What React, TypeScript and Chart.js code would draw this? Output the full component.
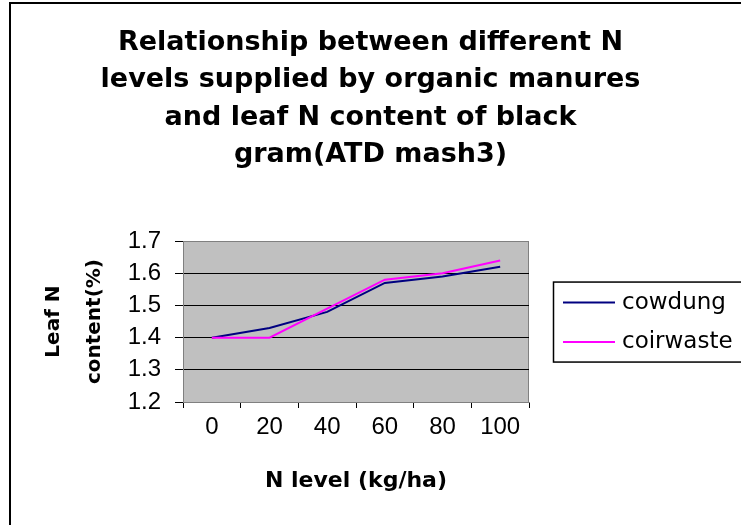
import React, { useEffect, useRef } from 'react';
import { Chart, registerables } from 'chart.js';

Chart.register(...registerables);

const categories = ['0', '20', '40', '60', '80', '100'];
const cowdung = [1.40, 1.43, 1.48, 1.57, 1.59, 1.62];
const coirwaste = [1.40, 1.40, 1.49, 1.58, 1.60, 1.64];
const seriesNames = ['cowdung', 'coirwaste'];
const seriesColors = ['#000080', '#FF00FF'];
const yTickLabels = ['1.2', '1.3', '1.4', '1.5', '1.6', '1.7'];
const titleLines = [
  'Relationship between different N',
  'levels supplied by organic manures',
  'and leaf N content of black',
  'gram(ATD mash3)',
];
const xTitle = 'N level (kg/ha)';
const yTitle = ['Leaf N', 'content(%)'];

const decor = {
  id: 'decor',
  beforeDraw(chart: any) {
    const { ctx, chartArea: a } = chart;
    ctx.save();
    ctx.fillStyle = '#ffffff';
    ctx.fillRect(0, 0, chart.width, chart.height);
    ctx.fillStyle = '#C0C0C0';
    ctx.fillRect(a.left, a.top, a.right - a.left, a.bottom - a.top);
    ctx.strokeStyle = '#808080';
    ctx.lineWidth = 1;
    ctx.beginPath();
    ctx.moveTo(Math.round(a.right) - 0.5, a.top);
    ctx.lineTo(Math.round(a.right) - 0.5, a.bottom);
    ctx.stroke();
    ctx.restore();
  },
  afterDraw(chart: any) {
    const { ctx, chartArea: a } = chart;
    ctx.save();
    // outer chart border
    ctx.strokeStyle = '#000';
    ctx.lineWidth = 2;
    ctx.strokeRect(10, 3, 800, 600);
    // legend
    const bx = a.right + 24;
    const cy = (a.top + a.bottom) / 2;
    const by = cy - 40;
    ctx.lineWidth = 1.5;
    ctx.strokeStyle = '#000';
    ctx.strokeRect(bx + 0.5, by + 0.5, 300, 80);
    ctx.font = '23px "DejaVu Sans"';
    ctx.textBaseline = 'middle';
    ctx.textAlign = 'left';
    chart.data.datasets.forEach((ds: any, i: number) => {
      const y = by + 21 + i * 39.5;
      ctx.strokeStyle = ds.borderColor;
      ctx.lineWidth = 2;
      ctx.beginPath();
      ctx.moveTo(bx + 10, y);
      ctx.lineTo(bx + 62, y);
      ctx.stroke();
      ctx.fillStyle = '#000';
      ctx.fillText(ds.label, bx + 69, y);
    });
    ctx.restore();
  },
};

export default function App() {
  const ref = useRef<HTMLCanvasElement | null>(null);
  useEffect(() => {
    if (!ref.current) return;
    const chart = new Chart(ref.current, {
      type: 'line',
      data: {
        labels: categories,
        datasets: [
          {
            label: seriesNames[0],
            data: cowdung,
            borderColor: seriesColors[0],
            backgroundColor: seriesColors[0],
            borderWidth: 2,
            pointRadius: 0,
            tension: 0,
            order: 1,
          },
          {
            label: seriesNames[1],
            data: coirwaste,
            borderColor: seriesColors[1],
            backgroundColor: seriesColors[1],
            borderWidth: 2,
            pointRadius: 0,
            tension: 0,
            order: 0,
          },
        ],
      },
      options: {
        animation: false,
        responsive: false,
        layout: { padding: { left: 0, right: 0, top: 0, bottom: 31 } },
        plugins: {
          legend: { display: false },
          tooltip: { enabled: false },
          title: {
            display: true,
            text: titleLines,
            color: '#000',
            font: { family: 'DejaVu Sans', weight: 'bold', size: 27, lineHeight: 1.39 },
            padding: { top: 24, bottom: 67 },
          },
        },
        scales: {
          x: {
            type: 'category',
            offset: true,
            afterFit: (s: any) => { s.height = 92; },
            grid: { offset: true, drawOnChartArea: false, tickLength: 6, color: '#000', tickColor: '#000' },
            border: { color: '#808080' },
            ticks: {
              font: { family: 'Liberation Sans', size: 24 },
              color: '#000',
              padding: 5,
              maxRotation: 0,
              autoSkip: false,
            },
            title: {
              display: true,
              text: xTitle,
              color: '#000',
              font: { family: 'DejaVu Sans', weight: 'bold', size: 22 },
              padding: { top: 0, bottom: 0 },
            },
          },
          y: {
            type: 'linear',
            min: 1.2,
            max: 1.7,
            afterBuildTicks: (s: any) => {
              s.ticks = yTickLabels.map((t) => ({ value: parseFloat(t) }));
            },
            afterFit: (s: any) => { s.width = 183; },
            ticks: {
              font: { family: 'Liberation Sans', size: 24 },
              color: '#000',
              padding: 14,
              callback: (_v: any, i: number) => yTickLabels[i],
            },
            grid: {
              color: (c: any) => (c.index === 0 || c.index === yTickLabels.length - 1 ? '#808080' : '#000'),
              tickColor: '#000',
              tickLength: 8,
              lineWidth: 1,
            },
            border: { color: '#808080' },
            title: {
              display: true,
              text: yTitle,
              color: '#000',
              font: { family: 'DejaVu Sans', weight: 'bold', size: 20, lineHeight: 2.05 },
              padding: { top: 33.5, bottom: 0 },
            },
          },
          yr: {
            type: 'linear',
            position: 'right',
            display: true,
            afterFit: (s: any) => { s.width = 212; },
            ticks: { display: false },
            grid: { display: false, drawTicks: false },
            border: { display: false },
          },
        },
      },
      plugins: [decor],
    } as any);
    return () => chart.destroy();
  }, []);
  return (
    <div style={{ position: 'fixed', left: 0, top: 0, width: 741, height: 525, background: '#fff' }}>
      <canvas ref={ref} width={741} height={525} style={{ display: 'block' }} />
    </div>
  );
}
